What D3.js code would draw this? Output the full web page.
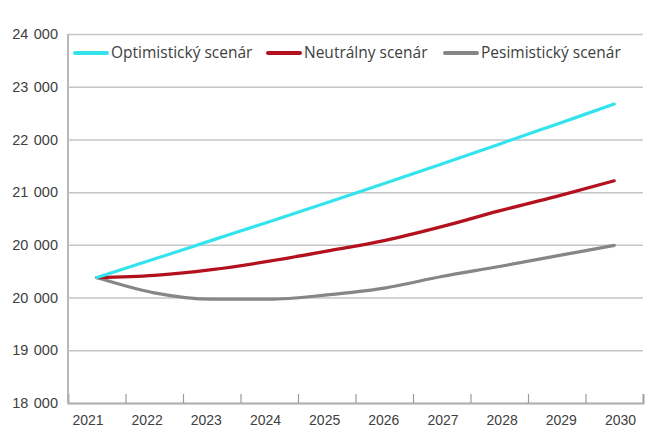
<!DOCTYPE html>
<html>
<head>
<meta charset="utf-8">
<script src="https://cdn.jsdelivr.net/npm/d3@7"></script>
<style>
  html, body { margin: 0; padding: 0; background: #fff; }
  svg { display: block; font-family: "Open Sans", "DejaVu Sans", sans-serif; }
</style>
</head>
<body>
<svg id="chart" width="649" height="443"></svg>
<script>
// ---- data ----
const years = [2021, 2022, 2023, 2024, 2025, 2026, 2027, 2028, 2029, 2030];
const optimistic = [20380, 20730, 21085, 21440, 21800, 22165, 22535, 22910, 23290, 23670];
const neutral    = [20380, 20420, 20530, 20690, 20880, 21080, 21345, 21645, 21920, 22215];
const pessimistic= [20380, 20090, 19970, 19970, 20050, 20180, 20400, 20590, 20790, 20990];
const seriesNames = ["Optimistický scenár", "Neutrálny scenár", "Pesimistický scenár"];
const yTickValues = [18000, 19000, 20000, 21000, 22000, 23000, 24000, 25000];
const yTickLabels = ["18 000", "19 000", "20 000", "20 000", "21 000", "22 000", "23 000", "24 000"];

// ---- layout ----
const plotLeft = 68, plotRight = 643, plotTop = 34, plotBottom = 403;
const colors = ["#33e4ec", "#b3111d", "#868686"];
const svg = d3.select("#chart");

const x = d3.scaleLinear().domain([years[0] - 0.5, years[years.length - 1] + 0.5]).range([plotLeft, plotRight]);
const xLabel = d3.scalePoint().domain(years).range([87.5, 620]);
const y = d3.scaleLinear().domain([18000, 25000]).range([plotBottom, plotTop]);

// gridlines + y labels
const yAxis = d3.axisLeft(y)
  .tickValues(yTickValues)
  .tickSize(-(plotRight - plotLeft))
  .tickPadding(10)
  .tickFormat((d, i) => yTickLabels[i]);
const gy = svg.append("g").attr("transform", `translate(${plotLeft},0)`).call(yAxis);
gy.select(".domain").remove();
gy.selectAll(".tick line").attr("stroke", "#c6c6c6").attr("stroke-width", 1.5);
gy.selectAll(".tick text").attr("fill", "#404040").style("font-size", "14.5px")
  .style("word-spacing", "1.5px").attr("x", -10);

// left axis line
svg.append("line").attr("x1", plotLeft).attr("x2", plotLeft).attr("y1", y(25000)).attr("y2", y(18000))
  .attr("stroke", "#b8b8b8").attr("stroke-width", 2);

// bottom axis with tick marks at category boundaries
const tickPos = years.map(d => d + 0.5);
const xAxis = d3.axisBottom(x).tickValues(tickPos).tickSize(-9).tickFormat("");
const gx = svg.append("g").attr("transform", `translate(0,${plotBottom})`).call(xAxis);
gx.select(".domain").attr("stroke", "#b0b0b0").attr("stroke-width", 2);
gx.selectAll(".tick line").attr("stroke", "#9a9a9a").attr("stroke-width", 1.2);

// x labels
const xLabAxis = d3.axisBottom(xLabel).tickSize(0).tickPadding(12);
const gxl = svg.append("g").attr("transform", `translate(0,${plotBottom})`).call(xLabAxis);
gxl.select(".domain").remove();
gxl.selectAll(".tick text").attr("fill", "#404040").style("font-size", "14px");

// lines
const allSeries = [optimistic, neutral, pessimistic];
const line = d3.line().x((d, i) => x(years[i])).y(d => y(d)).curve(d3.curveMonotoneX);
[2, 1, 0].forEach(k => {
  svg.append("path").datum(allSeries[k])
    .attr("fill", "none").attr("stroke", colors[k]).attr("stroke-width", 3.2)
    .attr("stroke-linecap", "round").attr("stroke-linejoin", "round")
    .attr("d", line);
});

// legend
const legendX = [75, 268, 445];
const lg = svg.append("g").attr("transform", "translate(0,53)");
seriesNames.forEach((name, i) => {
  lg.append("line").attr("x1", legendX[i]).attr("x2", legendX[i] + 32).attr("y1", 0).attr("y2", 0)
    .attr("stroke", colors[i]).attr("stroke-width", 4).attr("stroke-linecap", "round");
  lg.append("text").attr("x", legendX[i] + 36).attr("y", 0).attr("dy", "0.35em")
    .attr("fill", "#404040").style("font-size", "15.5px").text(name);
});
</script>
</body>
</html>
